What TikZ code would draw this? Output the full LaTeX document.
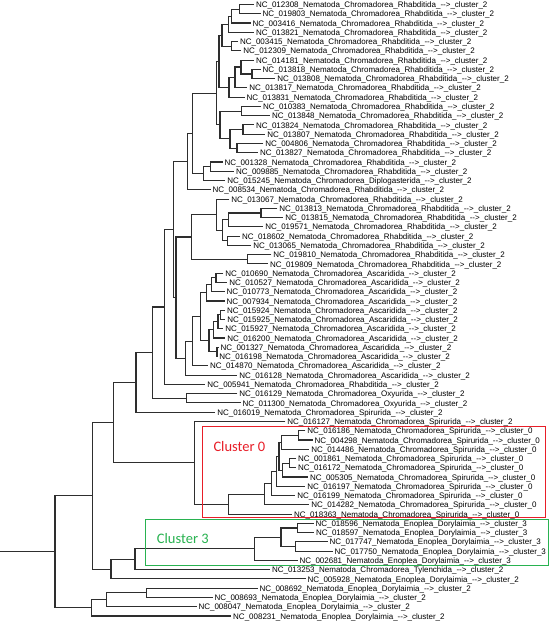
\documentclass[tikz,border=0pt]{standalone}
\usepackage{fontspec}
\setmainfont{Liberation Sans}
\newfontfamily\clfont{Carlito}
\usetikzlibrary{calc}
\definecolor{clred}{RGB}{232,30,40}
\definecolor{clgreen}{RGB}{40,178,80}
\newcommand\arw{-\kern0pt-\kern0pt>}
\newcommand\lf[6]{%
  \coordinate (l#1) at (#2,{4.5+9.265*#1});
  \node[lab] (t#1) at (l#1) {NC\_#3\_Nematoda\_#4\_#5\_\arw\_cluster\_#6};
}
\newcommand\jn[4]{%
  \coordinate (tmp) at ($(#3)!0.5!(#4)$);
  \coordinate (xx) at (#2,0);
  \coordinate (#1) at (tmp -| xx);
  \draw[br] (#3) -| (#1) |- (#4);
}
\begin{document}
\begin{tikzpicture}[x=1pt,y=-1pt,
  lab/.style={anchor=base west,inner sep=0pt,xshift=1.8pt,yshift=-3.1pt,font=\fontsize{8}{9}\selectfont},
  br/.style={line width=1.1pt,draw=black!82},
  clbox/.style={line width=0.9pt},
  cltext/.style={anchor=west,inner sep=0pt,font=\clfont\fontsize{14.5}{16}\selectfont}]
\useasboundingbox (0,0) rectangle (550,622);
\fill[white] (0,0) rectangle (550,622);
\lf{0}{254}{012308}{Chromadorea}{Rhabditida}{2}
\lf{1}{260.7}{019803}{Chromadorea}{Rhabditida}{2}
\lf{2}{250.7}{003416}{Chromadorea}{Rhabditida}{2}
\lf{3}{254}{013821}{Chromadorea}{Rhabditida}{2}
\lf{4}{238}{003415}{Chromadorea}{Rhabditida}{2}
\lf{5}{241.3}{012309}{Chromadorea}{Rhabditida}{2}
\lf{6}{254}{014181}{Chromadorea}{Rhabditida}{2}
\lf{7}{260.7}{013818}{Chromadorea}{Rhabditida}{2}
\lf{8}{275.3}{013808}{Chromadorea}{Rhabditida}{2}
\lf{9}{247.3}{013817}{Chromadorea}{Rhabditida}{2}
\lf{10}{244.7}{013831}{Chromadorea}{Rhabditida}{2}
\lf{11}{261}{010383}{Chromadorea}{Rhabditida}{2}
\lf{12}{270}{013848}{Chromadorea}{Rhabditida}{2}
\lf{13}{254}{013824}{Chromadorea}{Rhabditida}{2}
\lf{14}{265.3}{013807}{Chromadorea}{Rhabditida}{2}
\lf{15}{263.3}{004806}{Chromadorea}{Rhabditida}{2}
\lf{16}{258}{013827}{Chromadorea}{Rhabditida}{2}
\lf{17}{222.7}{001328}{Chromadorea}{Rhabditida}{2}
\lf{18}{234}{009885}{Chromadorea}{Rhabditida}{2}
\lf{19}{225.3}{015245}{Chromadorea}{Diplogasterida}{2}
\lf{20}{210.7}{008534}{Chromadorea}{Rhabditida}{2}
\lf{21}{229.3}{013067}{Chromadorea}{Rhabditida}{2}
\lf{22}{277.3}{013813}{Chromadorea}{Rhabditida}{2}
\lf{23}{283.3}{013815}{Chromadorea}{Rhabditida}{2}
\lf{24}{263.3}{019571}{Chromadorea}{Rhabditida}{2}
\lf{25}{240}{018602}{Chromadorea}{Rhabditida}{2}
\lf{26}{251.3}{013065}{Chromadorea}{Rhabditida}{2}
\lf{27}{271.3}{019810}{Chromadorea}{Rhabditida}{2}
\lf{28}{268}{019809}{Chromadorea}{Rhabditida}{2}
\lf{29}{223.3}{010690}{Chromadorea}{Ascaridida}{2}
\lf{30}{227.3}{010527}{Chromadorea}{Ascaridida}{2}
\lf{31}{224.7}{010773}{Chromadorea}{Ascaridida}{2}
\lf{32}{224.7}{007934}{Chromadorea}{Ascaridida}{2}
\lf{33}{225}{015924}{Chromadorea}{Ascaridida}{2}
\lf{34}{225.3}{015925}{Chromadorea}{Ascaridida}{2}
\lf{35}{223.3}{015927}{Chromadorea}{Ascaridida}{2}
\lf{36}{225.3}{016200}{Chromadorea}{Ascaridida}{2}
\lf{37}{218.7}{001327}{Chromadorea}{Ascaridida}{2}
\lf{38}{217.3}{016198}{Chromadorea}{Ascaridida}{2}
\lf{39}{208}{014870}{Chromadorea}{Ascaridida}{2}
\lf{40}{237.3}{016128}{Chromadorea}{Ascaridida}{2}
\lf{41}{205.3}{005941}{Chromadorea}{Rhabditida}{2}
\lf{42}{237.3}{016129}{Chromadorea}{Oxyurida}{2}
\lf{43}{240.7}{011300}{Chromadorea}{Oxyurida}{2}
\lf{44}{215.3}{016019}{Chromadorea}{Spirurida}{2}
\lf{45}{285.3}{016127}{Chromadorea}{Spirurida}{2}
\lf{46}{305.3}{016186}{Chromadorea}{Spirurida}{0}
\lf{47}{312.7}{004298}{Chromadorea}{Spirurida}{0}
\lf{48}{309.3}{014486}{Chromadorea}{Spirurida}{0}
\lf{49}{296}{001861}{Chromadorea}{Spirurida}{0}
\lf{50}{296}{016172}{Chromadorea}{Spirurida}{0}
\lf{51}{308}{005305}{Chromadorea}{Spirurida}{0}
\lf{52}{305.3}{016197}{Chromadorea}{Spirurida}{0}
\lf{53}{295.3}{016199}{Chromadorea}{Spirurida}{0}
\lf{54}{309.3}{014282}{Chromadorea}{Spirurida}{0}
\lf{55}{292}{018363}{Chromadorea}{Spirurida}{0}
\lf{56}{313.5}{018596}{Enoplea}{Dorylaimia}{3}
\lf{57}{314}{018597}{Enoplea}{Dorylaimia}{3}
\lf{58}{327.5}{017747}{Enoplea}{Dorylaimia}{3}
\lf{59}{332.5}{017750}{Enoplea}{Dorylaimia}{3}
\lf{60}{297.5}{002681}{Enoplea}{Dorylaimia}{3}
\lf{61}{270}{013253}{Chromadorea}{Tylenchida}{2}
\lf{62}{305.5}{005928}{Enoplea}{Dorylaimia}{2}
\lf{63}{257.5}{008692}{Enoplea}{Dorylaimia}{2}
\lf{64}{212.5}{008693}{Enoplea}{Dorylaimia}{2}
\lf{65}{196.5}{008047}{Enoplea}{Dorylaimia}{2}
\lf{66}{231.2}{008231}{Enoplea}{Dorylaimia}{2}
% internal nodes
\jn{C1}{239.5}{l0}{l1}
\jn{C2}{231.5}{C1}{l2}
\jn{C3}{228.5}{C2}{l3}
\jn{C4}{231.5}{l4}{l5}
\jn{C5}{222}{C3}{C4}
\jn{D1}{252}{l7}{l8}
\jn{D2}{241}{l6}{D1}
\jn{D3}{235}{D2}{l9}
\jn{D4}{229}{D3}{l10}
\jn{C6}{219}{C5}{D4}
\jn{E1}{241.7}{l11}{l12}
\jn{E2}{243}{l13}{l14}
\jn{E3}{237}{l15}{l16}
\jn{E4}{230}{E2}{E3}
\jn{E5}{220}{E1}{E4}
\jn{F}{216.5}{C6}{E5}
\jn{G1}{210.7}{l17}{l18}
\jn{G2}{203.3}{G1}{l19}
\jn{G}{192.7}{F}{G2}
\jn{H}{187.7}{G}{l20}
\jn{A1}{261}{l22}{l23}
\jn{A2}{228.3}{A1}{l24}
\jn{A3}{227.5}{l25}{l26}
\jn{A4}{222.7}{A2}{A3}
\jn{A5}{216.7}{l21}{A4}
\jn{B1}{247.3}{l27}{l28}
\jn{K}{191.7}{A5}{B1}
\jn{N1}{216}{l29}{l30}
\jn{N2}{211.7}{N1}{l31}
\jn{N3}{206.7}{N2}{l32}
\jn{N4}{220.5}{l33}{l34}
\jn{N5}{218}{N4}{l35}
\jn{N6}{213.3}{N5}{l36}
\jn{N7}{217}{l37}{l38}
\jn{N8}{209}{N6}{N7}
\jn{N}{200.3}{N3}{N8}
\jn{M}{192.5}{N}{l39}
\jn{L}{185.7}{M}{l40}
\jn{J}{176}{K}{L}
\jn{I}{173.7}{H}{J}
\jn{O}{164.3}{I}{l41}
\jn{P1}{186.3}{l42}{l43}
\jn{P}{152.3}{O}{P1}
\jn{Q}{136}{P}{l44}
\jn{X1}{298.3}{l46}{l47}
\jn{X2}{281.7}{X1}{l48}
\jn{X3}{289.3}{l49}{l50}
\jn{X4}{282.7}{X3}{l51}
\jn{X5}{279}{X2}{X4}
\jn{X6}{276.5}{X5}{l52}
\jn{X7}{271.5}{X6}{l53}
\jn{X8}{264.3}{X7}{l54}
\jn{X9}{228.3}{X8}{l55}
\jn{X}{194.3}{l45}{X9}
\jn{R}{113.3}{Q}{X}
\jn{Y1}{297.5}{l56}{l57}
\jn{Y2}{295.8}{l58}{l59}
\jn{Y3}{281}{Y1}{Y2}
\jn{Y4}{254.3}{Y3}{l60}
\jn{U}{135}{Y4}{l61}
\jn{T}{111}{U}{l62}
\jn{S}{92.3}{R}{T}
\jn{Z1}{146.7}{l63}{l64}
\jn{Z2}{106.7}{Z1}{l65}
\jn{Z3}{91.7}{Z2}{l66}
\jn{root}{55}{S}{Z3}
\coordinate (xx) at (0,0);
\coordinate (r0) at (root -| xx);
\draw[br] (r0) -- (root);
% clusters
\draw[clbox,draw=clred] (202,426.5) rectangle (545,517.5);
\node[cltext,text=clred] (c0) at (213.3,446.5) {Cluster 0};
\draw[clbox,draw=clgreen] (145.5,519.5) rectangle (548,565.2);
\node[cltext,text=clgreen] (c3) at (156.7,538.3) {Cluster 3};
\end{tikzpicture}
\end{document}
